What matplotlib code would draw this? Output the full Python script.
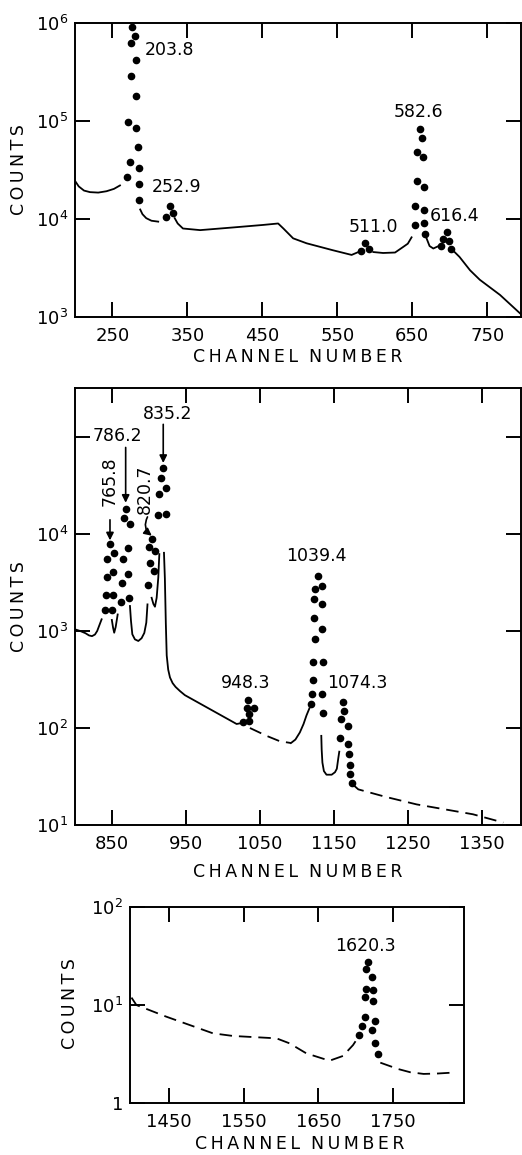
import matplotlib
matplotlib.use("Agg")
import matplotlib.pyplot as plt
from matplotlib.ticker import FixedLocator, NullLocator

plt.rcParams['font.family'] = ['DejaVu Sans']
plt.rcParams['mathtext.default'] = 'regular'
plt.rcParams['lines.scale_dashes'] = False

# ---- spectrum, channels 200-800 ----
top_dot_ch = [275.6, 280, 274.7, 281, 275, 281.3, 271, 281.8, 283.6, 273.3, 285.8, 269.8, 285, 285,
              321, 326.7, 331,
              581, 587, 592,
              653, 654, 656, 656, 660, 663, 664, 665, 666, 665, 667,
              688, 691, 696, 699, 701]
top_dot_cnt = [9.1e5, 7.4e5, 6.3e5, 4.2e5, 2.9e5, 1.78e5, 9.8e4, 8.5e4, 5.4e4, 3.8e4, 3.3e4, 2.7e4, 2.3e4, 1.56e4,
               1.05e4, 1.37e4, 1.14e4,
               4.75e3, 5.65e3, 4.9e3,
               8.7e3, 1.36e4, 2.45e4, 4.8e4, 8.2e4, 6.7e4, 4.3e4, 2.1e4, 1.23e4, 9.0e3, 6.95e3,
               5.3e3, 6.3e3, 7.4e3, 6.0e3, 5.0e3]
top_lines = [
    ([200, 205, 212, 220, 231, 242, 252, 260],
     [2.45e4, 2.15e4, 1.95e4, 1.88e4, 1.86e4, 1.92e4, 2.03e4, 2.2e4]),
    ([287, 290, 295, 302, 311],
     [1.25e4, 1.12e4, 1.02e4, 9.6e3, 9.4e3]),
    ([333, 337, 344, 367, 411, 451, 471, 478, 491, 509, 544, 569, 578],
     [1.02e4, 9.0e3, 8.0e3, 7.7e3, 8.2e3, 8.7e3, 9.0e3, 8.0e3, 6.35e3, 5.65e3, 4.8e3, 4.3e3, 4.6e3]),
    ([598, 611, 627, 638, 644, 649],
     [4.6e3, 4.5e3, 4.55e3, 5.2e3, 5.6e3, 6.5e3]),
    ([669, 673, 678, 684],
     [6.35e3, 5.3e3, 5.0e3, 5.25e3]),
    ([704, 713, 727, 740, 767, 796],
     [4.8e3, 4.1e3, 3.0e3, 2.4e3, 1.68e3, 1.05e3]),
]
top_labels = [('203.8', 293, 5.3e5), ('252.9', 302.7, 2.14e4), ('511.0', 565, 8.3e3),
              ('582.6', 625, 1.23e5), ('616.4', 673, 1.07e4)]

# ---- spectrum, channels 800-1400 ----
mid_dot_ch = [840.5, 849.6, 841.4, 851.8, 842.8, 851, 843.7, 852.7, 847.3,
              861.7, 872.5, 863, 871.2, 864.4, 871.6, 866.2, 868.9, 874.3,
              899, 906.8, 901.4, 900.5, 908, 904,
              912.6, 923, 914, 923, 916.2, 919.4,
              1026.6, 1035.6, 1035.6, 1041.9, 1033, 1033.3,
              1118.5, 1121, 1133.8, 1122, 1135.5, 1122, 1135.5, 1124.8, 1134.2, 1123, 1133.4, 1123, 1124,
              1133.8, 1128.8,
              1162.6, 1163.5, 1159, 1168.5, 1158, 1168.5, 1170, 1171.6, 1171.6, 1174.3]
mid_dot_cnt = [1.63e3, 1.63e3, 2.33e3, 2.33e3, 3.6e3, 4.06e3, 5.5e3, 6.3e3, 7.8e3,
               1.99e3, 2.2e3, 3.15e3, 3.84e3, 5.5e3, 7.2e3, 1.47e4, 1.8e4, 1.28e4,
               2.96e3, 4.15e3, 5.06e3, 7.3e3, 6.7e3, 8.95e3,
               1.57e4, 1.6e4, 2.56e4, 2.96e4, 3.8e4, 4.75e4,
               115, 118, 141, 162, 162, 194,
               178, 222, 222, 316, 144, 480, 480, 830, 1.04e3, 1.37e3, 1.88e3, 2.12e3, 2.69e3,
               2.91e3, 3.69e3,
               185, 150, 123, 105, 79, 69, 54, 42, 33.8, 27.3]
mid_lines = [
    ([800, 807, 814, 819, 823, 827, 830, 833, 836],
     [1.04e3, 1.0e3, 950, 900, 885, 920, 1.0e3, 1.15e3, 1.32e3]),
    ([849.8, 851.5, 853, 855, 857.7],
     [1.3e3, 1.08e3, 960, 1.1e3, 1.48e3]),
    ([874.3, 875.7, 877.5, 881, 885.6, 890, 893.7, 896.4, 898],
     [1.81e3, 1.27e3, 925, 820, 789, 842, 955, 1.22e3, 1.88e3]),
    ([903.6, 906, 908.1, 910.4, 912.6, 914],
     [2.2e3, 1.9e3, 1.78e3, 2.2e3, 3.55e3, 6.2e3]),
    ([920.3, 921.5, 922.8, 924, 926, 928.4, 932, 936, 942, 948.6, 1018.5, 1024],
     [6.4e3, 3.5e3, 1.2e3, 560, 400, 332, 290, 265, 240, 218, 110, 112]),
    ([1092, 1098, 1104, 1109, 1113, 1117],
     [70, 76, 90, 110, 135, 160]),
    ([1133, 1133.5, 1134.5, 1136.5, 1140, 1147, 1151.5, 1154, 1156, 1157.3],
     [83, 60, 44, 36, 33, 33, 35, 38, 49, 57]),
]
mid_dashed = [
    ([1036.5, 1059, 1077, 1092],
     [100, 83, 73, 70]),
    ([1176, 1183, 1220, 1262, 1300, 1338, 1379],
     [26, 23.3, 19.5, 16.3, 14.5, 12.9, 10.6]),
]
mid_labels = [('835.2', 891.5, 1.73e5), ('786.2', 823.9, 1.03e5), ('1039.4', 1085, 5.9e3),
              ('948.3', 997.3, 293), ('1074.3', 1141, 293)]
mid_vlabels = [('765.8', 847.3, 3.5e4), ('820.7', 894.6, 2.9e4)]
mid_arrows = [((847.3, 1.4e4), (847.3, 8.6e3), 0.0),
              ((868.5, 7.8e4), (868.5, 2.1e4), 0.0),
              ((898.0, 1.5e4), (903.8, 9.6e3), 0.4),
              ((919.3, 1.35e5), (919.3, 5.4e4), 0.0)]

# ---- spectrum, channels 1400-1850 ----
bot_dot_ch = [1717, 1714.4, 1722.5, 1713.5, 1723.8, 1712.4, 1723.4, 1712.4, 1725.5, 1708.4, 1722,
              1705, 1725.5, 1730]
bot_dot_cnt = [27.7, 23.1, 19.5, 14.6, 14.2, 12.2, 11.1, 7.5, 6.9, 6.1, 5.56, 4.94, 4.1, 3.14]
bot_dashed = [
    ([1400, 1406.5, 1446.6, 1509, 1536, 1594, 1611.6, 1634, 1665, 1683, 1696.5, 1705],
     [11.9, 10, 7.6, 5.14, 4.83, 4.57, 4.06, 3.21, 2.7, 3.02, 3.9, 4.9]),
    ([1733, 1757, 1773, 1791, 1810, 1829],
     [2.58, 2.22, 2.06, 1.98, 2.0, 2.04]),
]
bot_labels = [('1620.3', 1672.3, 40)]

W, H = 522, 1155
fig = plt.figure(figsize=(W / 100, H / 100), dpi=100)


def spaced(s):
    return '\u2009'.join(s)


def setup(ax, xlim, ylim, xticks, yticks, ylabels):
    ax.set_yscale('log')
    ax.set_xlim(*xlim)
    ax.set_ylim(*ylim)
    ax.xaxis.set_major_locator(FixedLocator(xticks))
    ax.yaxis.set_major_locator(FixedLocator(yticks))
    ax.xaxis.set_minor_locator(NullLocator())
    ax.yaxis.set_minor_locator(NullLocator())
    ax.set_xticklabels([str(t) for t in xticks])
    ax.set_yticklabels(ylabels)
    ax.tick_params(direction='in', length=11, width=1.4, top=True, right=True,
                   labelsize=13, pad=5)
    ax.tick_params(axis='x', pad=7)
    for sp in ax.spines.values():
        sp.set_linewidth(1.4)


def curves(ax, solid, dashed=()):
    for xs, ys in solid:
        ax.plot(xs, ys, color='k', lw=1.3)
    for xs, ys in dashed:
        ax.plot(xs, ys, color='k', lw=1.3, dashes=(9, 5))


ax1 = fig.add_axes([75 / W, 1 - 317 / H, 446 / W, 294 / H])
setup(ax1, (200, 795), (1e3, 1e6), [250, 350, 450, 550, 650, 750],
      [1e3, 1e4, 1e5, 1e6], ['$10^{3}$', '$10^{4}$', '$10^{5}$', '$10^{6}$'])
curves(ax1, top_lines)
ax1.plot(top_dot_ch, top_dot_cnt, 'o', color='k', ms=4.5)
for txt, x, y in top_labels:
    ax1.text(x, y, txt, fontsize=12.5, ha='left', va='center')

ax2 = fig.add_axes([75 / W, 1 - 825 / H, 446 / W, 437 / H])
setup(ax2, (800, 1403), (10, 3.2e5), [850, 950, 1050, 1150, 1250, 1350],
      [1e1, 1e2, 1e3, 1e4, 1e5], ['$10^{1}$', '$10^{2}$', '$10^{3}$', '$10^{4}$', ''])
curves(ax2, mid_lines, mid_dashed)
ax2.plot(mid_dot_ch, mid_dot_cnt, 'o', color='k', ms=4.5)
for txt, x, y in mid_labels:
    ax2.text(x, y, txt, fontsize=12.5, ha='left', va='center')
for txt, x, y in mid_vlabels:
    ax2.text(x, y, txt, fontsize=12.5, ha='center', va='center', rotation=90)
for start, tip, rad in mid_arrows:
    ax2.annotate('', xy=tip, xytext=start,
                 arrowprops=dict(arrowstyle='-|>', color='k', lw=1.2, mutation_scale=11,
                                 shrinkA=0, shrinkB=0,
                                 connectionstyle='arc3,rad=%s' % rad))

ax3 = fig.add_axes([130 / W, 1 - 1103 / H, 334 / W, 196 / H])
setup(ax3, (1398, 1845), (1, 100), [1450, 1550, 1650, 1750],
      [1, 10, 100], ['1', '$10^{1}$', '$10^{2}$'])
curves(ax3, [], bot_dashed)
ax3.plot(bot_dot_ch, bot_dot_cnt, 'o', color='k', ms=4.5)
for txt, x, y in bot_labels:
    ax3.text(x, y, txt, fontsize=12.5, ha='left', va='center')

# axis titles
for (x, y) in [(19, 170), (19, 607), (70, 1004)]:
    fig.text(x / W, 1 - y / H, spaced('COUNTS'), rotation=90, fontsize=12.5,
             ha='center', va='center')
for (x, y) in [(298, 357), (298, 872), (300, 1144)]:
    fig.text(x / W, 1 - y / H, spaced('CHANNEL') + '  ' + spaced('NUMBER'), fontsize=12.5,
             ha='center', va='center')

fig.savefig('out.png', dpi=100)
